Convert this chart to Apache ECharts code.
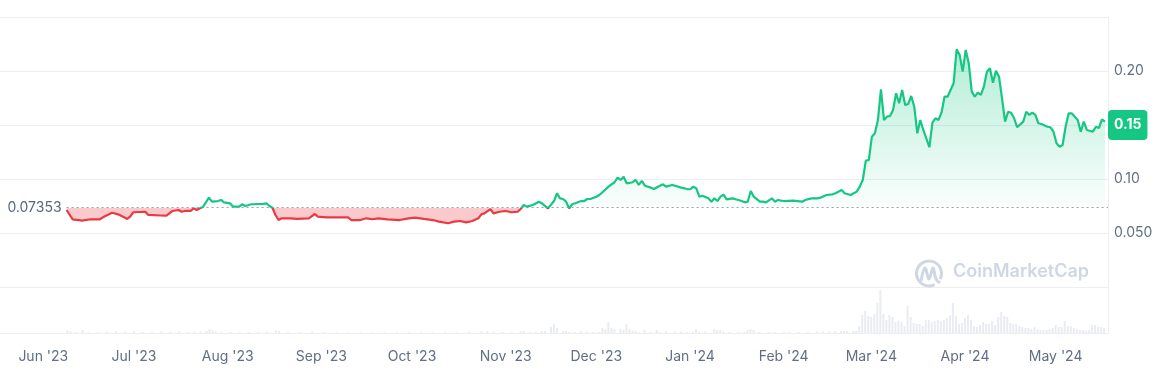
<!DOCTYPE html>
<html><head><meta charset="utf-8">
<script src="https://cdn.jsdelivr.net/npm/echarts@6/dist/echarts.min.js"></script>
<style>html,body{margin:0;padding:0;background:#fff}#c{width:1166px;height:374px}</style>
</head><body><div id="c"></div>
<script>
const priceDates = [
'2023-06-09','2023-06-11','2023-06-13','2023-06-14','2023-06-17','2023-06-20','2023-06-21','2023-06-23','2023-06-24','2023-06-26','2023-06-27','2023-06-28','2023-06-29','2023-06-30',
'2023-07-01','2023-07-05','2023-07-06','2023-07-10','2023-07-12','2023-07-14','2023-07-16','2023-07-17','2023-07-18','2023-07-20','2023-07-21','2023-07-22','2023-07-23','2023-07-24','2023-07-26','2023-07-27','2023-07-29','2023-07-30','2023-07-31',
'2023-08-02','2023-08-03','2023-08-05','2023-08-06','2023-08-07','2023-08-09','2023-08-13','2023-08-14','2023-08-15','2023-08-16','2023-08-17','2023-08-18','2023-08-19','2023-08-22','2023-08-24','2023-08-28','2023-08-30','2023-08-31',
'2023-09-03','2023-09-10','2023-09-11','2023-09-14','2023-09-16','2023-09-18','2023-09-20','2023-09-23','2023-09-27','2023-09-30',
'2023-10-02','2023-10-05','2023-10-08','2023-10-10','2023-10-13','2023-10-15','2023-10-17','2023-10-19','2023-10-21','2023-10-23','2023-10-24','2023-10-25','2023-10-27','2023-10-28','2023-10-30',
'2023-11-01','2023-11-03','2023-11-05','2023-11-06','2023-11-07','2023-11-08','2023-11-10','2023-11-12','2023-11-13','2023-11-15','2023-11-17','2023-11-18','2023-11-19','2023-11-20','2023-11-21','2023-11-22','2023-11-23','2023-11-24','2023-11-26','2023-11-27','2023-11-28','2023-11-29',
'2023-12-01','2023-12-02','2023-12-03','2023-12-05','2023-12-06','2023-12-07','2023-12-08','2023-12-09','2023-12-10','2023-12-11','2023-12-13','2023-12-14','2023-12-15','2023-12-16','2023-12-17','2023-12-19','2023-12-20','2023-12-22','2023-12-23','2023-12-24','2023-12-26','2023-12-27','2023-12-29','2023-12-31',
'2024-01-01','2024-01-02','2024-01-03','2024-01-04','2024-01-05','2024-01-07','2024-01-08','2024-01-09','2024-01-10','2024-01-11','2024-01-12','2024-01-13','2024-01-15','2024-01-16','2024-01-18','2024-01-19','2024-01-20','2024-01-21','2024-01-22','2024-01-24','2024-01-25','2024-01-26','2024-01-28','2024-01-29','2024-01-30','2024-01-31',
'2024-02-01','2024-02-04','2024-02-07','2024-02-08','2024-02-10','2024-02-12','2024-02-13','2024-02-15','2024-02-17','2024-02-18','2024-02-20','2024-02-21','2024-02-23','2024-02-24','2024-02-25','2024-02-26','2024-02-27','2024-02-28','2024-02-29',
'2024-03-01','2024-03-02','2024-03-03','2024-03-04','2024-03-05','2024-03-06','2024-03-07','2024-03-08','2024-03-09','2024-03-10','2024-03-11','2024-03-12','2024-03-13','2024-03-14','2024-03-15','2024-03-16','2024-03-17','2024-03-18','2024-03-20','2024-03-21','2024-03-22','2024-03-23','2024-03-24','2024-03-25','2024-03-26','2024-03-27','2024-03-28','2024-03-29','2024-03-30','2024-03-31',
'2024-04-01','2024-04-02','2024-04-03','2024-04-04','2024-04-05','2024-04-06','2024-04-07','2024-04-08','2024-04-09','2024-04-10','2024-04-11','2024-04-12','2024-04-13','2024-04-14','2024-04-15','2024-04-16','2024-04-17','2024-04-18','2024-04-20','2024-04-21','2024-04-22','2024-04-23','2024-04-24','2024-04-25','2024-04-26','2024-04-28','2024-04-29','2024-04-30',
'2024-05-01','2024-05-02','2024-05-03','2024-05-04','2024-05-05','2024-05-06','2024-05-08','2024-05-09','2024-05-10','2024-05-11','2024-05-13','2024-05-14','2024-05-15','2024-05-16','2024-05-17'
];
const priceValues = [
0.0713,0.0627,0.0620,0.0614,0.0627,0.0627,0.0645,0.0673,0.0688,0.0673,0.0660,0.0645,0.0630,0.0651,
0.0692,0.0697,0.0667,0.0662,0.0660,0.0704,0.0713,0.0697,0.0704,0.0704,0.0729,0.0713,0.0729,0.0740,0.0827,0.0790,0.0796,0.0806,0.0784,
0.0775,0.0744,0.0744,0.0766,0.0750,0.0766,0.0769,0.0775,0.0750,0.0734,0.0667,0.0620,0.0636,0.0636,0.0630,0.0636,0.0676,0.0651,
0.0645,0.0645,0.0620,0.0620,0.0636,0.0627,0.0636,0.0627,0.0620,0.0636,
0.0642,0.0630,0.0620,0.0605,0.0590,0.0605,0.0611,0.0599,0.0611,0.0636,0.0673,0.0682,0.0722,0.0682,0.0697,
0.0704,0.0692,0.0697,0.0722,0.0759,0.0744,0.0759,0.0790,0.0775,0.0728,0.0796,0.0868,0.0821,0.0815,0.0790,0.0728,0.0766,0.0775,0.0796,0.0796,0.0815,0.0815,
0.0836,0.0852,0.0877,0.0929,0.0951,0.0970,0.1012,0.0991,0.1021,0.0960,0.0970,0.0991,0.0945,0.0982,0.0938,0.0920,0.0907,0.0938,0.0951,0.0929,0.0945,0.0938,0.0920,0.0907,
0.0905,0.0929,0.0914,0.0836,0.0845,0.0821,0.0790,0.0821,0.0796,0.0836,0.0855,0.0812,0.0821,0.0812,0.0796,0.0784,0.0790,0.0889,0.0836,0.0790,0.0790,0.0784,0.0821,0.0790,0.0806,0.0800,
0.0796,0.0799,0.0790,0.0806,0.0821,0.0821,0.0827,0.0852,0.0858,0.0868,0.0898,0.0868,0.0852,0.0868,0.0883,0.0929,0.0991,0.1170,0.1176,
0.1392,0.1423,0.1546,0.1831,0.1546,0.1577,0.1583,0.1639,0.1794,0.1701,0.1824,0.1685,0.1694,0.1769,0.1670,0.1423,0.1546,0.1454,0.1294,0.1521,0.1562,0.1546,0.1614,0.1762,0.1762,0.1824,0.1886,0.2201,0.2148,0.1994,
0.2195,0.2071,0.1809,0.1762,0.1799,0.1778,0.1855,0.1994,0.2025,0.1892,0.2003,0.1947,0.1747,0.1531,0.1623,0.1614,0.1562,0.1479,0.1531,0.1623,0.1593,0.1614,0.1593,0.1516,0.1509,0.1484,0.1479,0.1438,
0.1331,0.1299,0.1315,0.1484,0.1608,0.1608,0.1546,0.1438,0.1531,0.1454,0.1438,0.1484,0.1472,0.1553,0.1531
];
const volDates = [
'2023-06-09','2023-06-10','2023-06-12','2023-06-14','2023-06-16','2023-06-19','2023-06-22','2023-06-25','2023-06-28',
'2023-07-01','2023-07-04','2023-07-07','2023-07-10','2023-07-13','2023-07-16','2023-07-19','2023-07-21','2023-07-23','2023-07-25','2023-07-26','2023-07-27','2023-07-28','2023-07-30',
'2023-08-02','2023-08-05','2023-08-08','2023-08-11','2023-08-14','2023-08-17','2023-08-18','2023-08-21','2023-08-25','2023-08-29',
'2023-09-02','2023-09-06','2023-09-10','2023-09-14','2023-09-18','2023-09-22','2023-09-26','2023-09-30',
'2023-10-04','2023-10-08','2023-10-12','2023-10-16','2023-10-20','2023-10-24','2023-10-26','2023-10-28','2023-10-31',
'2023-11-03','2023-11-06','2023-11-07','2023-11-09','2023-11-11','2023-11-13','2023-11-14','2023-11-16','2023-11-17','2023-11-18','2023-11-20','2023-11-21','2023-11-22','2023-11-24','2023-11-26','2023-11-28','2023-11-30',
'2023-12-02','2023-12-03','2023-12-04','2023-12-05','2023-12-06','2023-12-07','2023-12-09','2023-12-10','2023-12-11','2023-12-12','2023-12-13','2023-12-14','2023-12-15','2023-12-17','2023-12-19','2023-12-21','2023-12-22','2023-12-24','2023-12-27','2023-12-29','2023-12-31',
'2024-01-02','2024-01-03','2024-01-04','2024-01-06','2024-01-09','2024-01-10','2024-01-11','2024-01-12','2024-01-14','2024-01-17','2024-01-19','2024-01-20','2024-01-21','2024-01-22','2024-01-24','2024-01-27','2024-01-29',
'2024-02-01','2024-02-03','2024-02-06','2024-02-09','2024-02-12','2024-02-14','2024-02-16','2024-02-18','2024-02-20','2024-02-21','2024-02-22','2024-02-24','2024-02-25','2024-02-26','2024-02-27','2024-02-28','2024-02-29',
'2024-03-01','2024-03-02','2024-03-03','2024-03-04','2024-03-05','2024-03-06','2024-03-07','2024-03-08','2024-03-09','2024-03-10','2024-03-11','2024-03-12','2024-03-13','2024-03-14','2024-03-15','2024-03-16','2024-03-17','2024-03-18','2024-03-19','2024-03-20','2024-03-21','2024-03-22','2024-03-23','2024-03-24','2024-03-25','2024-03-26','2024-03-27','2024-03-28','2024-03-29','2024-03-30','2024-03-31',
'2024-04-01','2024-04-02','2024-04-03','2024-04-04','2024-04-05','2024-04-06','2024-04-07','2024-04-08','2024-04-09','2024-04-10','2024-04-11','2024-04-12','2024-04-13','2024-04-14','2024-04-15','2024-04-16','2024-04-17','2024-04-18','2024-04-19','2024-04-20','2024-04-21','2024-04-22','2024-04-23','2024-04-24','2024-04-25','2024-04-26','2024-04-27','2024-04-28','2024-04-29','2024-04-30',
'2024-05-01','2024-05-02','2024-05-03','2024-05-04','2024-05-05','2024-05-06','2024-05-07','2024-05-08','2024-05-09','2024-05-10','2024-05-11','2024-05-12','2024-05-13','2024-05-14','2024-05-15','2024-05-16','2024-05-17'
];
const volValues = [
2.5,1.5,1,3,1,1,1,1.5,1,
1.5,1,1,1.5,1,1.5,1,1.5,1.5,2,4,3,2,1.5,
1,1,1,1,1,2.5,2,1,1,1.5,
1,0.8,0.8,1,0.8,0.8,0.8,1,
0.8,0.8,0.8,0.8,1,1.5,2,1.5,1,
1,1.5,2,1,1.5,2,2,6,9,5,2,2,1,1,2,1,1,
1,5,4,11,5,4,4,3,9,4,2,2,1,3,1,3,1,1.5,1.5,1.5,1,
1.5,4,1.5,1.5,4,3,3,1.5,1,1,1,3,4,3,1,1,1,
1,1,1,1,1.5,1.5,1.5,2,2,2,2,2,2,7,18,22,17,
16,19,30,43,19,13,18,16,11,12,11,7,27,16,10,9,9,7,13,13,11,12,13,12,13,15,18,30,17,9,10,
15,18,13,7,6,8,11,9,9,12,8,16,21,17,16,10,9,9,7,6,5,5,4,6,4,3,3,3,4,5,
8,6,6,12,7,7,5,4,3,3,2,3,8,8,6,6,5
];
const baseValue = 0.07353;
const axisStart = '2023-05-18';
const axisEnd = '2024-05-18';
const monthNames = ['Jan','Feb','Mar','Apr','May','Jun','Jul','Aug','Sep','Oct','Nov','Dec'];

const GREEN = '#16c784', RED = '#ea3943';
const priceData = priceDates.map((d, i) => [d, priceValues[i]]);
const volData = volDates.map((d, i) => [d, volValues[i]]);
const vMax = Math.max(...priceValues), vMin = Math.min(...priceValues);
const t = (vMax - baseValue) / (vMax - vMin);
const lastValue = priceValues[priceValues.length - 1];
const fontFamily = 'Inter, "Noto Sans", sans-serif';
const borderColor = '#eceef1';

const chart = echarts.init(document.getElementById('c'), null, {renderer: 'canvas'});
chart.setOption({
  animation: false,
  grid: [
    {left: 0, right: 58, top: 17, height: 270},
    {left: 0, right: 58, top: 287, height: 46}
  ],
  xAxis: [
    {type: 'time', gridIndex: 0, min: axisStart, max: axisEnd, show: false},
    {type: 'time', gridIndex: 1, min: axisStart, max: axisEnd, splitNumber: 12,
     axisLine: {show: true, lineStyle: {color: borderColor}},
     axisTick: {show: false}, splitLine: {show: false},
     axisLabel: {
       color: '#616e85', fontSize: 14, fontFamily, margin: 17,
       showMinLabel: false, showMaxLabel: false,
       formatter: (v) => { const d = new Date(v); return monthNames[d.getMonth()] + " '" + String(d.getFullYear()).slice(2); }
     }}
  ],
  yAxis: [
    {type: 'value', gridIndex: 0, position: 'right', min: 0, max: 0.25, interval: 0.05,
     axisLine: {show: true, lineStyle: {color: borderColor}},
     axisTick: {show: false},
     splitLine: {show: true, lineStyle: {color: borderColor}},
     axisLabel: {
       color: '#616e85', fontSize: 14, fontFamily, margin: 6,
       showMinLabel: false, showMaxLabel: false,
       formatter: (v) => v >= 0.1 ? v.toFixed(2) : v.toFixed(3)
     }},
    {type: 'value', gridIndex: 1, position: 'right', min: 0, max: 46,
     axisLine: {show: true, lineStyle: {color: borderColor}},
     axisTick: {show: false}, axisLabel: {show: false}, splitLine: {show: false}}
  ],
  visualMap: {
    type: 'piecewise', show: false, seriesIndex: 0, dimension: 1,
    pieces: [{min: 0, max: baseValue, color: RED}, {min: baseValue, max: 1, color: GREEN}]
  },
  series: [
    {
      type: 'line', xAxisIndex: 0, yAxisIndex: 0, data: priceData,
      showSymbol: false, symbol: 'none', z: 5,
      lineStyle: {width: 2.2},
      areaStyle: {
        origin: baseValue, opacity: 1,
        color: new echarts.graphic.LinearGradient(0, 0, 0, 1, [
          {offset: 0, color: 'rgba(22,199,132,0.32)'},
          {offset: t, color: 'rgba(22,199,132,0.02)'},
          {offset: t, color: 'rgba(234,57,67,0.27)'},
          {offset: 1, color: 'rgba(234,57,67,0.27)'}
        ])
      },
      markLine: {
        silent: true, symbol: 'none', animation: false,
        data: [
          [
            {coord: [priceDates[0], baseValue],
             lineStyle: {color: '#9aa1b4', width: 1, type: [2, 3]},
             label: {show: true, position: 'start', distance: 5, formatter: () => String(baseValue),
                     color: '#58667e', fontSize: 14, fontFamily}},
            {coord: [axisEnd, baseValue]}
          ]
        ]
      }
    },
    {
      type: 'line', xAxisIndex: 0, yAxisIndex: 0, data: [], z: 6,
      markLine: {
        silent: true, symbol: 'none', animation: false,
        data: [
          {yAxis: lastValue,
           lineStyle: {color: 'rgba(0,0,0,0)', width: 0},
           label: {show: true, position: 'end', distance: 0, opacity: 1,
                   formatter: () => lastValue.toFixed(2),
                   backgroundColor: GREEN, color: '#fff', fontWeight: 'bold',
                   fontSize: 14, fontFamily, padding: [8, 6, 8, 6], borderRadius: 4, lineHeight: 14}}
        ]
      }
    },
    {
      type: 'bar', xAxisIndex: 1, yAxisIndex: 1, data: volData,
      barWidth: 2, itemStyle: {color: '#e9ecf1'}, silent: true
    }
  ],
  graphic: [
    {type: 'arc', silent: true, z: 1,
     shape: {cx: 929, cy: 273.5, r: 12.5, startAngle: Math.PI * 0.35, endAngle: Math.PI * 2.15, clockwise: true},
     style: {stroke: '#cfd6e4', lineWidth: 3, fill: null}},
    {type: 'polyline', silent: true, z: 1,
     shape: {points: [[921, 281], [925, 268], [929, 279], [933, 268], [936, 279], [940, 283]], smooth: 0.4},
     style: {stroke: '#cfd6e4', lineWidth: 3, fill: null}},
    {type: 'text', silent: true, z: 1, left: 953, top: 263,
     style: {text: 'CoinMarketCap', fill: '#cfd6e4', font: '600 18px Inter, sans-serif'}}
  ]
});
</script></body></html>
